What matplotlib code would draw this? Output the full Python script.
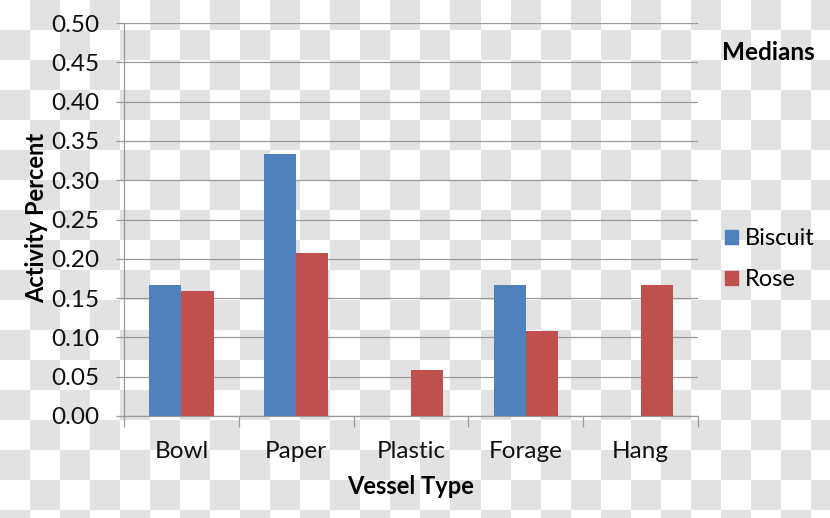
import numpy as np
import matplotlib
matplotlib.use("Agg")
import matplotlib.pyplot as plt
from matplotlib.patches import Patch

categories = ["Bowl", "Paper", "Plastic", "Forage", "Hang"]
biscuit = [0.167, 0.333, 0.0, 0.167, 0.0]
rose = [0.159, 0.208, 0.058, 0.108, 0.167]
yticks = [0.00, 0.05, 0.10, 0.15, 0.20, 0.25, 0.30, 0.35, 0.40, 0.45, 0.50]

plt.rcParams['font.family'] = ['Lato', 'DejaVu Sans']

W, H = 830, 518
fig = plt.figure(figsize=(W / 100, H / 100), dpi=100)

# checkerboard background
bg = fig.add_axes([0, 0, 1, 1], zorder=-5)
sq = 30
nr, nc = H // sq + 1, W // sq + 1
checker = (np.add.outer(np.arange(nr), np.arange(nc)) % 2).astype(float)
bg.imshow(checker, cmap=matplotlib.colors.ListedColormap(['#ffffff', '#e2e2e2']),
          extent=(0, nc * sq, nr * sq, 0), interpolation='nearest', aspect='auto')
bg.set_xlim(0, W)
bg.set_ylim(H, 0)
bg.axis('off')

ax = fig.add_axes([124 / W, 1 - 416 / H, (698 - 124) / W, (416 - 23) / H])
ax.set_facecolor('none')

x = np.arange(len(categories))
bw = 0.28
ax.bar(x - bw / 2, biscuit, bw, color='#4f81bd', zorder=3)
ax.bar(x + bw / 2, rose, bw, color='#c0504d', zorder=3)

gc = '#9a9a9a'
ax.set_xlim(-0.5, len(categories) - 0.5)
ax.set_ylim(0, 0.5)
ax.set_yticks(yticks)
ax.set_yticklabels([f"{v:.2f}" for v in yticks], fontsize=17.5)
ax.yaxis.grid(True, color=gc, linewidth=0.9, zorder=0)
ax.set_axisbelow(True)
ax.tick_params(axis='y', length=6, width=0.9, color=gc, pad=12, labelcolor='#111111')

ax.set_xticks(x)
ax.set_xticklabels(categories, fontsize=17.5, color='#111111')
ax.tick_params(axis='x', which='major', length=0, pad=18)
ax.set_xticks(np.arange(-0.5, len(categories)), minor=True)
ax.tick_params(axis='x', which='minor', length=8, width=0.9, color=gc)

for s in ['top', 'right']:
    ax.spines[s].set_visible(False)
for s in ['left', 'bottom']:
    ax.spines[s].set_color(gc)
    ax.spines[s].set_linewidth(0.9)

fig.text(37 / W, 1 - 218 / H, "Activity Percent", fontsize=17, fontweight='bold',
         rotation=90, ha='center', va='center')
fig.text(411 / W, 1 - 486 / H, "Vessel Type", fontsize=17, fontweight='bold',
         ha='center', va='center')
fig.text(768 / W, 1 - 52 / H, "Medians", fontsize=17.5, fontweight='bold',
         ha='center', va='center')

handles = [Patch(color='#4f81bd', label='Biscuit'), Patch(color='#c0504d', label='Rose')]
fig.legend(handles=handles, loc='center left', bbox_to_anchor=(704 / W, 1 - 259 / H),
           frameon=False, fontsize=17, handlelength=0.55, handleheight=0.55,
           handletextpad=0.28, labelspacing=0.85)

fig.savefig("out.png", dpi=100)
